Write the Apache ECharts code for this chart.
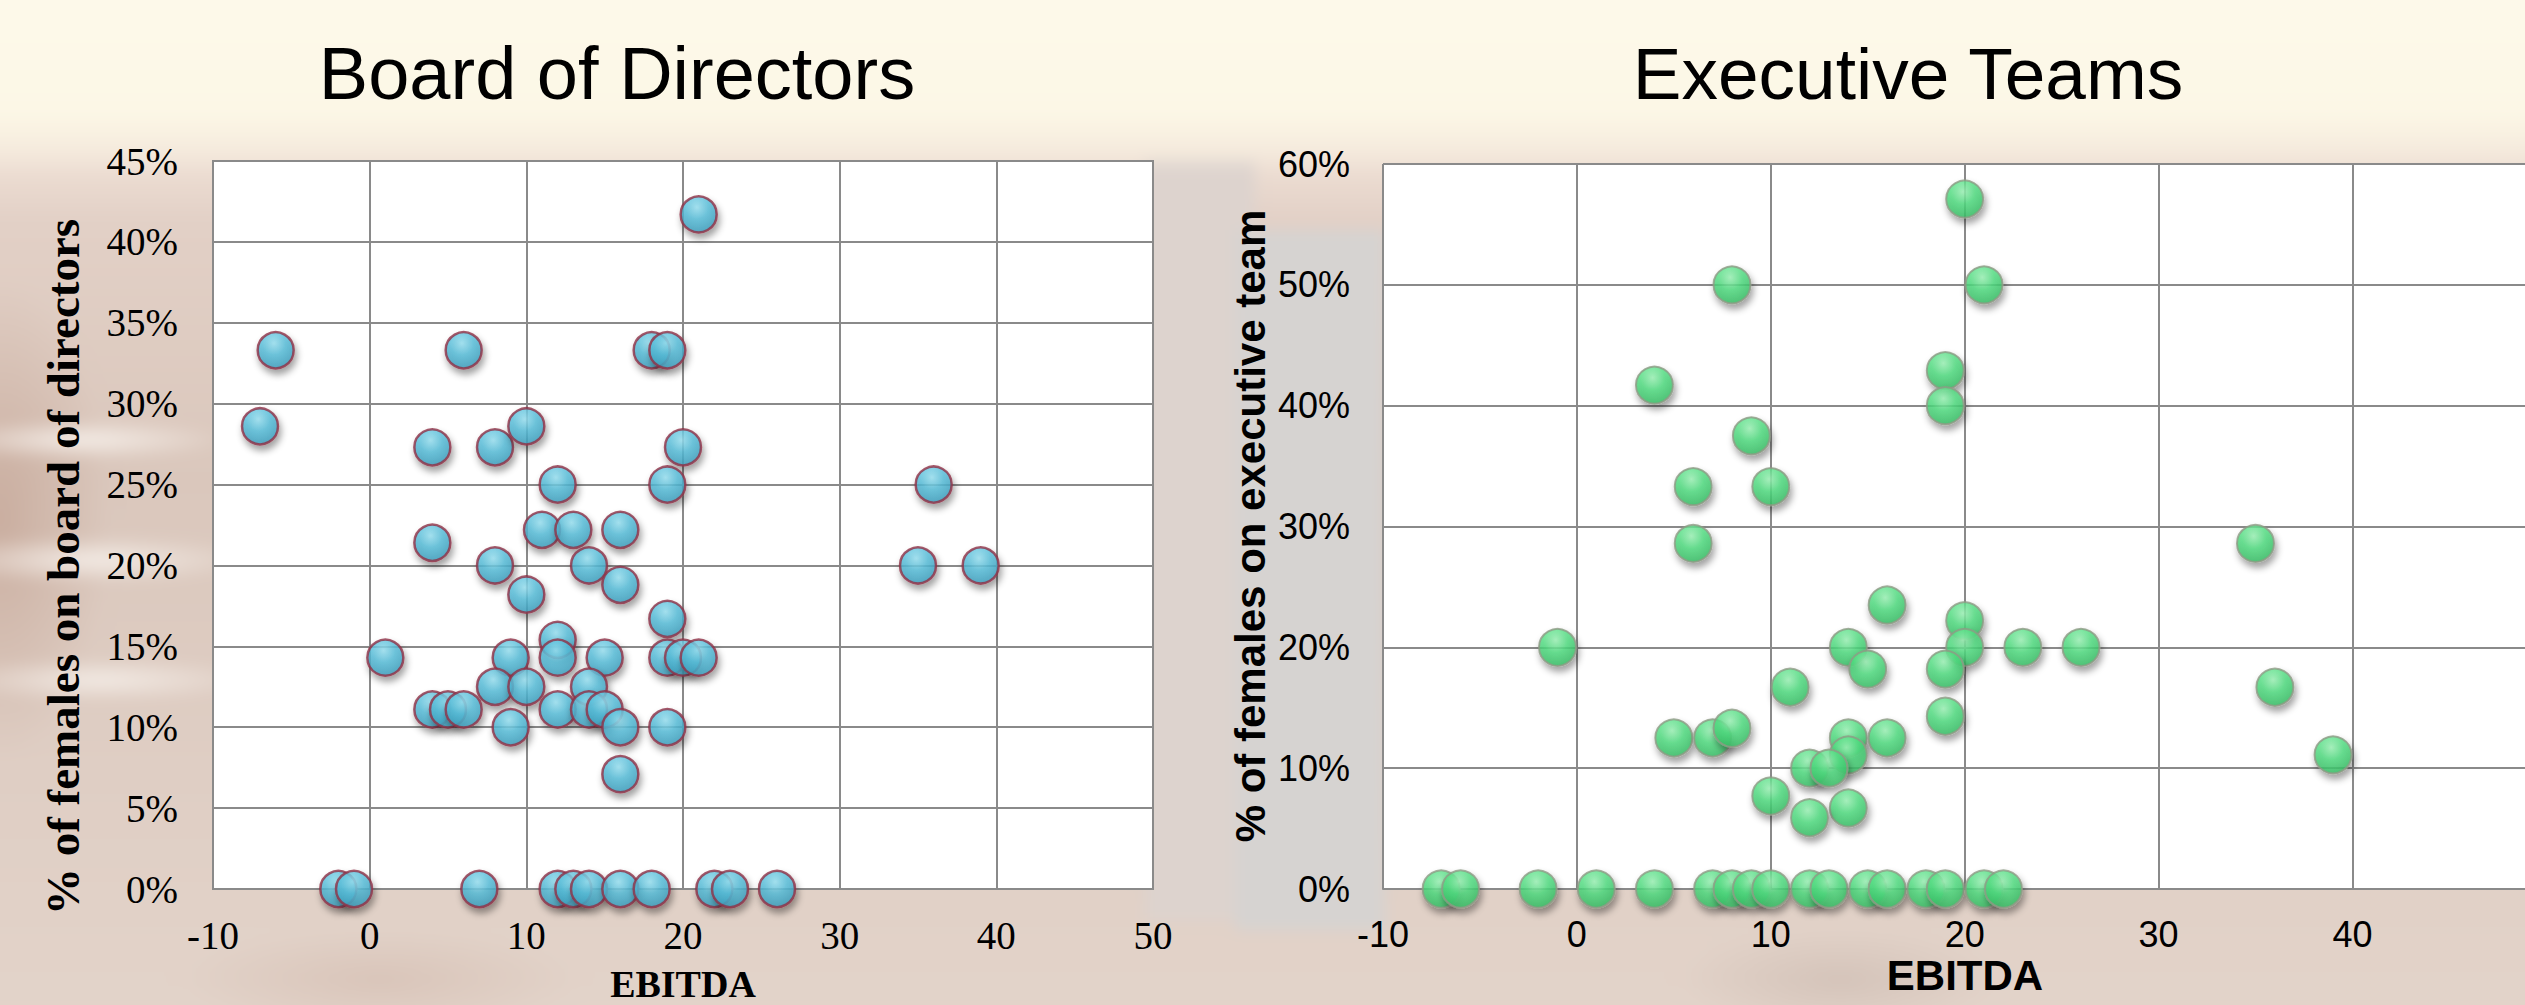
<!DOCTYPE html>
<html>
<head>
<meta charset="utf-8">
<title>Women in leadership vs EBITDA</title>
<script src="https://cdn.jsdelivr.net/npm/echarts@6/dist/echarts.min.js"></script>
<style>
  html, body { margin: 0; padding: 0; background: #dccac0; }
  #stage { position: relative; width: 2525px; height: 1005px; overflow: hidden; }
  #backdrop {
    position: absolute; left: -40px; top: -40px; width: 2605px; height: 1085px;
    filter: blur(7px);
    background:
      linear-gradient(to bottom, #fdfaeb 0px, #fcf7e6 150px, rgba(252,246,228,0) 215px),
      radial-gradient(ellipse 150px 20px at 120px 480px, rgba(255,252,248,.75), rgba(255,252,248,0)),
      radial-gradient(ellipse 170px 24px at 130px 600px, rgba(255,252,248,.7), rgba(255,252,248,0)),
      radial-gradient(ellipse 160px 22px at 140px 720px, rgba(255,252,248,.65), rgba(255,252,248,0)),
      radial-gradient(ellipse 110px 240px at 40px 560px, rgba(170,125,105,.35), rgba(170,125,105,0)),
      radial-gradient(ellipse 200px 50px at 420px 1020px, rgba(190,155,140,.25), rgba(190,155,140,0)),
      radial-gradient(ellipse 160px 50px at 1880px 1020px, rgba(170,150,140,.25), rgba(170,150,140,0)),
      linear-gradient(#d6d3d1, #d6d3d1) 1275px 270px / 150px 700px no-repeat,
      linear-gradient(#ddd3ce, #ddd3ce) 1185px 200px / 110px 760px no-repeat,
      linear-gradient(to bottom, #fcf7e5 0px, #f0e2d7 190px, #e2d0c6 260px, #dac7bc 520px, #dfcec4 820px, #e3d4ca 1085px);
  }
  #chart { position: absolute; left: 0; top: 0; width: 2525px; height: 1005px; }
</style>
</head>
<body>
<div id="stage">
  <div id="backdrop"></div>
  <div id="chart"></div>
</div>
<script>
// EBITDA against the share of women (in %) for each company
const boardEbitda = [
  -7, -6, 6, 18, 19, 21, 4, 8, 10, 20,
  12, 19, 36, 4, 11, 13, 16, 8, 14, 16,
  10, 35, 39, 19, 12, 12, 1, 9, 15, 19,
  20, 21, 8, 10, 14, 4, 5, 6, 12, 14,
  15, 9, 16, 19, 16,
  -2, -1, 7, 12, 13, 14, 16, 18, 22, 23, 26
];
const boardShare = [
  28.6, 33.3, 33.3, 33.3, 33.3, 41.7, 27.3, 27.3, 28.6, 27.3,
  25, 25, 25, 21.4, 22.2, 22.2, 22.2, 20, 20, 18.8,
  18.2, 20, 20, 16.7, 15.4, 14.3, 14.3, 14.3, 14.3, 14.3,
  14.3, 14.3, 12.5, 12.5, 12.5, 11.1, 11.1, 11.1, 11.1, 11.1,
  11.1, 10, 10, 10, 7.1,
  0, 0, 0, 0, 0, 0, 0, 0, 0, 0, 0
];

const execEbitda = [
  20, 8, 21, 19, 19, 4, 9, 6, 10, 6,
  35, 16, 20, -1, 14, 20, 23, 26, 15, 19,
  11, 36, 19, 5, 7, 8, 14, 16, 14, 12,
  13, 39, 10, 14, 12,
  -7, -6, -2, 1, 4, 7, 8, 9, 10, 12, 13, 15, 16, 18, 19, 21, 22
];
const execShare = [
  57.1, 50, 50, 42.9, 40, 41.7, 37.5, 33.3, 33.3, 28.6,
  28.6, 23.5, 22.2, 20, 20, 20, 20, 20, 18.2, 18.2,
  16.7, 16.7, 14.3, 12.5, 12.5, 13.3, 12.5, 12.5, 11.1, 10,
  10, 11.1, 7.7, 6.7, 5.9,
  0, 0, 0, 0, 0, 0, 0, 0, 0, 0, 0, 0, 0, 0, 0, 0, 0
];

// axis ranges: [min, max, step]
const boardEbitdaTicks = [-10, 50, 10];
const execEbitdaTicks = [-10, 48.9, 10];   // the right panel runs on past the page edge
const boardTicks = [0, 45, 5];
const execTicks = [0, 60, 10];

const chartTitles = ['Board of Directors', 'Executive Teams'];
const xName = 'EBITDA';
const boardYName = '% of females on board of directors';
const execYName = '% of females on executive team';

const gridGrey = '#8a8a8a';
const serif = '"Liberation Serif", "Times New Roman", serif';
const sans = '"Liberation Sans", Arial, sans-serif';

function pairs(xs, ys) { return xs.map((x, i) => [x, ys[i]]); }

function xAxisFor(gridIndex, ticks, font, size, showMax) {
  return {
    type: 'value', gridIndex,
    min: ticks[0], max: ticks[1], interval: ticks[2],
    axisLine: { show: true, onZero: false, lineStyle: { color: gridGrey, width: 2 } },
    axisTick: { show: false },
    splitLine: { show: true, showMaxLine: showMax, lineStyle: { color: gridGrey, width: 2 } },
    axisLabel: { color: '#000', fontFamily: font, fontSize: size, margin: 27,
                 showMinLabel: true, showMaxLabel: showMax }
  };
}
function yAxisFor(gridIndex, ticks, font, size, margin) {
  return {
    type: 'value', gridIndex,
    min: ticks[0], max: ticks[1], interval: ticks[2],
    axisLine: { show: true, lineStyle: { color: gridGrey, width: 2 } },
    axisTick: { show: false },
    splitLine: { show: true, lineStyle: { color: gridGrey, width: 2 } },
    axisLabel: { color: '#000', fontFamily: font, fontSize: size, margin,
                 formatter: '{value}%', showMinLabel: true, showMaxLabel: true }
  };
}

const blueBall = {
  color: { type: 'radial', x: 0.45, y: 0.3, r: 0.75,
    colorStops: [ { offset: 0, color: '#9be3f4' }, { offset: 0.45, color: '#58bfdb' },
                  { offset: 1, color: '#3a9cbb' } ] },
  borderColor: '#8e3146', borderWidth: 2.5,
  shadowColor: 'rgba(0,0,0,0.45)', shadowBlur: 7, shadowOffsetX: 2, shadowOffsetY: 5
};
const greenBall = {
  color: { type: 'radial', x: 0.45, y: 0.3, r: 0.75,
    colorStops: [ { offset: 0, color: '#9ef5b8' }, { offset: 0.45, color: '#52de82' },
                  { offset: 1, color: '#34bb62' } ] },
  borderColor: '#8e9b86', borderWidth: 2,
  shadowColor: 'rgba(0,0,0,0.45)', shadowBlur: 7, shadowOffsetX: 2, shadowOffsetY: 5
};

const chart = echarts.init(document.getElementById('chart'), null, { renderer: 'svg' });
chart.setOption({
  animation: false,
  backgroundColor: 'transparent',
  grid: [
    { left: 213, top: 161, width: 940, height: 728, show: true, backgroundColor: '#ffffff',
      borderColor: gridGrey, borderWidth: 2, containLabel: false, outerBoundsMode: 'none' },
    { left: 1383, top: 164, width: 1142, height: 725, show: true, backgroundColor: '#ffffff',
      borderWidth: 0, containLabel: false, outerBoundsMode: 'none' }
  ],
  xAxis: [ xAxisFor(0, boardEbitdaTicks, serif, 39, true), xAxisFor(1, execEbitdaTicks, sans, 36, false) ],
  yAxis: [ yAxisFor(0, boardTicks, serif, 39, 35), yAxisFor(1, execTicks, sans, 36, 33) ],
  series: [
    { type: 'scatter', xAxisIndex: 0, yAxisIndex: 0, data: pairs(boardEbitda, boardShare),
      symbol: 'circle', symbolSize: 36, itemStyle: blueBall, clip: false,
      emphasis: { disabled: true } },
    { type: 'scatter', xAxisIndex: 1, yAxisIndex: 1, data: pairs(execEbitda, execShare),
      symbol: 'circle', symbolSize: 37, itemStyle: greenBall, clip: false,
      emphasis: { disabled: true } }
  ],
  graphic: [
    { type: 'text', x: 617, y: 73, z: 10,
      style: { text: chartTitles[0], fontFamily: sans, fontSize: 74, fill: '#000',
               textAlign: 'center', textVerticalAlign: 'middle' } },
    { type: 'text', x: 1908, y: 73, z: 10,
      style: { text: chartTitles[1], fontFamily: sans, fontSize: 73, fill: '#000',
               textAlign: 'center', textVerticalAlign: 'middle' } },
    { type: 'text', x: 63, y: 567, rotation: Math.PI / 2, z: 10,
      style: { text: boardYName, fontFamily: serif, fontWeight: 'bold', fontSize: 47, fill: '#000',
               textAlign: 'center', textVerticalAlign: 'middle' } },
    { type: 'text', x: 1250, y: 526, rotation: Math.PI / 2, z: 10,
      style: { text: execYName, fontFamily: sans, fontWeight: 'bold', fontSize: 42, fill: '#000',
               textAlign: 'center', textVerticalAlign: 'middle' } },
    { type: 'text', x: 683, y: 984, z: 10,
      style: { text: xName, fontFamily: serif, fontWeight: 'bold', fontSize: 38, fill: '#000',
               textAlign: 'center', textVerticalAlign: 'middle' } },
    { type: 'text', x: 1965, y: 975, z: 10,
      style: { text: xName, fontFamily: sans, fontWeight: 'bold', fontSize: 42, fill: '#000',
               textAlign: 'center', textVerticalAlign: 'middle' } }
  ]
});
</script>
</body>
</html>
